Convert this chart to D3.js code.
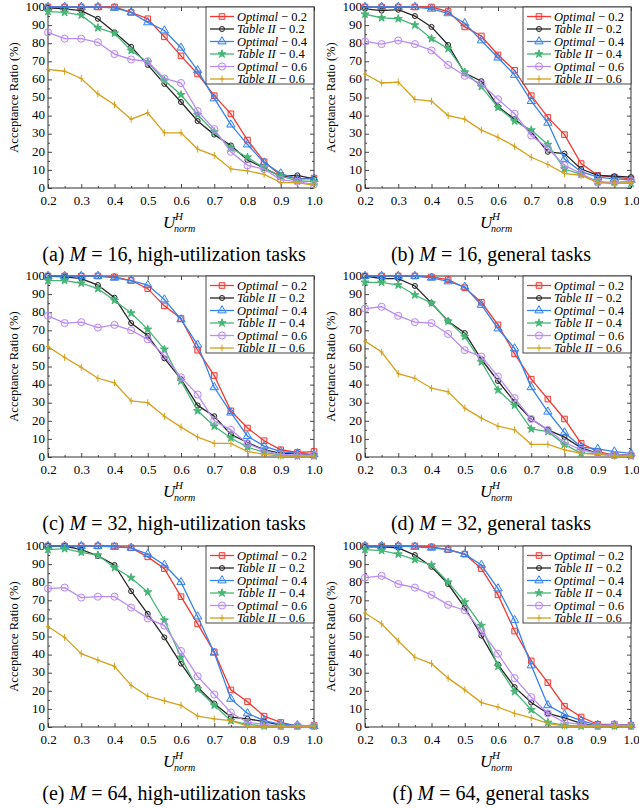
<!DOCTYPE html>
<html><head><meta charset="utf-8">
<script src="https://cdn.jsdelivr.net/npm/d3@7"></script>
<style>
body{margin:0;background:#fff}
svg{display:block}
text{font-family:"Liberation Serif","Times New Roman",Times,serif;fill:#000}
</style>
</head><body>
<svg id="chart" width="639" height="809"></svg>
<script>
// ---------- data ----------
const xValues = [0.2,0.25,0.3,0.35,0.4,0.45,0.5,0.55,0.6,0.65,0.7,0.75,0.8,0.85,0.9,0.95,1.0];
const xTicks = [0.2,0.3,0.4,0.5,0.6,0.7,0.8,0.9,1.0];
const xMinorTicks = [0.25,0.35,0.45,0.55,0.65,0.75,0.85,0.95];
const yTicks = [0,10,20,30,40,50,60,70,80,90,100];
const yMinorTicks = [5,15,25,35,45,55,65,75,85,95];

const seriesNames = ["Optimal","Table II","Optimal","Table II","Optimal","Table II"];
const seriesParams = ["0.2","0.2","0.4","0.4","0.6","0.6"];
const seriesColors = ["#f03a32","#262626","#3583ee","#46b676","#b98cf2","#d6a11c"];
const seriesMarkers = ["square","smallCircle","triangle","star","circle","plus"];

const captionLetters = ["(a)","(b)","(c)","(d)","(e)","(f)"];
const captionM = ["16","16","32","32","64","64"];
const captionKinds = ["high-utilization tasks","general tasks","high-utilization tasks","general tasks","high-utilization tasks","general tasks"];

// (a) M=16 high-utilization
const a_opt02 = [100,100,100,100,100,97,93.5,83.5,73,63,51,41,26.5,14.5,7,5,5.5];
const a_tab02 = [99.5,99,98,93.5,86,78,68,57.5,47.5,37,29.5,23.5,15.5,11,6.5,7,5];
const a_opt04 = [100,100,100,100,99.5,97,91.5,87,77.5,65,49.5,35,24,14,8,5,5];
const a_tab04 = [97.5,97,95.5,88.5,85.5,76,69.5,59.5,51.5,40.5,31,22,17,11,6.5,4,3.5];
const a_opt06 = [86,82.5,82.5,80.5,74,71,70,60.5,58,42.5,32.5,20,12.5,10.5,4.5,3.5,2];
const a_tab06 = [65.5,64.5,60.5,52,46,38,41.5,30.5,30.5,21.5,18,10.5,9.5,7.5,3,3,1.5];
// (b) M=16 general
const b_opt02 = [100,100,100,100,100,97.5,89,84,73.5,65,51,39,29.5,13.5,7,6,5];
const b_tab02 = [99,98,98.5,95,89,79,63.5,59,45,38,31,20,19,10.5,7,6.5,6];
const b_opt04 = [100,100,100,100,99,96.5,91,81.5,72,62.5,48,36,16,9,6,5,4.5];
const b_tab04 = [96,94,93.5,90,82.5,77,64,56,44.5,37,32,24,10.5,7.5,3.5,3,2.5];
const b_opt06 = [81,79.5,81.5,79.5,76,68,62,57.5,49,41,29,22,12.5,8,3,3,4];
const b_tab06 = [63,58,58.5,49,48,40,38,32,28,23,17,13,8,7,3,2.5,3];
// (c) M=32 high-utilization
const c_opt02 = [100,100,100,100,99.5,97.5,93,83.5,76.5,59,45,25.5,16,9,4,2.5,3];
const c_tab02 = [100,99.5,98.5,95,88,74,67,54.5,43,28.5,22.5,12.5,8,4,2,2,1];
const c_opt04 = [100,100,100,100,99,97.5,95,87,76,62,38.5,24.5,11.5,6,3,2,1.5];
const c_tab04 = [97.5,97.5,96,93,86.5,79.5,70.5,59.5,42,25.5,17,10.5,5.5,2.5,1,0.5,0.5];
const c_opt06 = [78,74,74.5,71.5,73,70,65,56,44,34.5,20,15,7.5,3.5,1.5,1,1];
const c_tab06 = [61,55,49.5,43.5,41,31,30,22.5,16.5,11,7.5,7.5,3,1.5,0.5,0.5,0.5];
// (d) M=32 general
const d_opt02 = [100,100,100,100,99.5,98,93.5,85.5,73,57,43,32,21,7.5,3,1,1];
const d_tab02 = [100,98.5,98.5,94.5,85,75,68.5,54,42,30.5,21,15,11,5,2,1,1];
const d_opt04 = [100,100,100,100,99,97,94,84,71,60,38.5,25,13.5,5.5,4.5,3,2];
const d_tab04 = [96.5,96.5,95,89.5,85,75,66.5,52.5,37,28.5,15.5,14,7,2,2,1,0.5];
const d_opt06 = [82,83,78,74.5,74,68,59,55.5,44.5,32.5,21,15,8,4,2,1,1];
const d_tab06 = [64,58,46,43.5,38,36,27,21.5,17,15,7,7,4,2,1.5,0.5,0.5];
// (e) M=64 high-utilization
const e_opt02 = [100,100,100,100,100,99,94,87.5,72,57,41.5,20.5,14,6,2.5,0.5,1];
const e_tab02 = [100,100,98,94.5,89.5,75,62.5,49.5,35,22,13,5.5,4.5,3,1,0.5,0.5];
const e_opt04 = [100,100,100,100,99.5,99,95.5,89.5,80,61,41,15.5,7.5,3.5,1.5,1,0.5];
const e_tab04 = [98,98.5,96.5,95,88,82.5,74.5,59,38.5,21,12,3.5,1.5,0.5,0.5,0.5,0.5];
const e_opt06 = [76.5,77,71.5,72,72,66,60,56,42,28,18,8,2.5,1.5,0.5,0.5,0.5];
const e_tab06 = [55.5,49.5,40.5,37,33.5,23,17,14.5,12,6,4.5,3.5,0.5,0.5,0.5,0.5,0.5];
// (f) M=64 general
const f_opt02 = [100,100,100,100,99.5,98,95.5,87.5,73,53,36.5,24.5,11.5,5.5,1.5,1.5,1];
const f_tab02 = [99.5,99.5,99,95,88.5,79,66,50.5,34.5,22,13.5,7.5,5,2,0.5,0.5,0.5];
const f_opt04 = [100,100,100,99.5,99,98,95.5,89.5,76.5,59,34,12,7,3.5,1,1,1];
const f_tab04 = [98,97.5,95.5,92.5,89.5,80,69,56,33.5,19.5,9.5,2.5,1,0.5,0.5,0.5,0.5];
const f_opt06 = [82.5,83.5,79,77,73,67.5,64.5,53,40.5,27,16.5,7.5,2.5,1.5,0.5,1.5,0.5];
const f_tab06 = [63,57,47.5,38.5,35,27,20.5,13.5,11,7.5,5,2,0.5,0.5,0.5,0.5,0.5];

const panelSeries = [
  [a_opt02,a_tab02,a_opt04,a_tab04,a_opt06,a_tab06],
  [b_opt02,b_tab02,b_opt04,b_tab04,b_opt06,b_tab06],
  [c_opt02,c_tab02,c_opt04,c_tab04,c_opt06,c_tab06],
  [d_opt02,d_tab02,d_opt04,d_tab04,d_opt06,d_tab06],
  [e_opt02,e_tab02,e_opt04,e_tab04,e_opt06,e_tab06],
  [f_opt02,f_tab02,f_opt04,f_tab04,f_opt06,f_tab06]
];

// ---------- layout ----------
const colLeft = [48, 365];
const plotW = 266;
const rowTop = [7, 276, 546];
const plotH = 181;

const svg = d3.select("#chart");

function markerPath(type){
  switch(type){
    case "square": return "M-2.8,-2.8H2.8V2.8H-2.8Z";
    case "smallCircle": return d3.symbol(d3.symbolCircle, 20)();
    case "triangle": return d3.symbol(d3.symbolTriangle, 30)();
    case "star": return d3.symbol(d3.symbolStar, 20)();
    case "circle": return d3.symbol(d3.symbolCircle, 40)();
    case "plus": return "M-2,0H2M0,-3.5V3.5";
  }
}
function markerFill(type, color){
  if(type==="star") return color;
  if(type==="plus") return "none";
  return d3.color(color).copy({opacity:0.12}).formatRgb();
}

panelSeries.forEach((series, p) => {
  const col = p % 2, row = Math.floor(p / 2);
  const left = colLeft[col], top = rowTop[row];
  const g = svg.append("g").attr("transform", `translate(${left},${top})`);
  const x = d3.scaleLinear().domain([0.2, 1.0]).range([0, plotW]);
  const y = d3.scaleLinear().domain([0, 100]).range([plotH, 0]);

  // axes, ticks pointing inward on all four sides
  g.append("g").attr("transform", `translate(0,${plotH})`)
    .call(d3.axisBottom(x).tickValues(xTicks).tickSize(-4).tickPadding(8).tickFormat(d3.format(".1f")));
  g.append("g").attr("transform", `translate(0,${plotH})`)
    .call(d3.axisBottom(x).tickValues(xMinorTicks).tickSize(-2).tickFormat(""));
  const yAx = g.append("g")
    .call(d3.axisLeft(y).tickValues(yTicks).tickSize(-4).tickPadding(3).tickFormat(d3.format("d")));
  yAx.selectAll(".tick text").attr("dy", "0.25em");
  g.append("g").call(d3.axisLeft(y).tickValues(yMinorTicks).tickSize(-2).tickFormat(""));
  g.append("g").call(d3.axisTop(x).tickValues(xTicks).tickSize(-4).tickFormat(""));
  g.append("g").call(d3.axisTop(x).tickValues(xMinorTicks).tickSize(-2).tickFormat(""));
  g.append("g").attr("transform", `translate(${plotW},0)`)
    .call(d3.axisRight(y).tickValues(yTicks).tickSize(-4).tickFormat(""));
  g.append("g").attr("transform", `translate(${plotW},0)`)
    .call(d3.axisRight(y).tickValues(yMinorTicks).tickSize(-2).tickFormat(""));
  g.selectAll(".domain").remove();
  g.selectAll(".tick line").attr("stroke", "#333").attr("stroke-width", 0.9);
  g.selectAll(".tick text").attr("font-size", 13).attr("fill", "#000");

  // frame
  g.append("rect").attr("width", plotW).attr("height", plotH)
    .attr("fill", "none").attr("stroke", "#333").attr("stroke-width", 1);

  // series
  const line = d3.line().x((d, i) => x(xValues[i])).y(d => y(d));
  series.forEach((vals, s) => {
    const c = seriesColors[s];
    g.append("path").datum(vals).attr("d", line)
      .attr("fill", "none").attr("stroke", c).attr("stroke-width", 1.3);
    g.append("g").selectAll("path").data(vals).join("path")
      .attr("transform", (d, i) => `translate(${x(xValues[i])},${y(d)})`)
      .attr("d", markerPath(seriesMarkers[s]))
      .attr("fill", markerFill(seriesMarkers[s], c))
      .attr("stroke", c).attr("stroke-width", 1);
  });

  // legend
  const lgW = 108, lgH = 77;
  const lg = g.append("g").attr("transform", `translate(${plotW - lgW},0)`);
  lg.append("rect").attr("width", lgW).attr("height", lgH)
    .attr("fill", "#fff").attr("stroke", "#333").attr("stroke-width", 0.9);
  seriesNames.forEach((nm, s) => {
    const yy = 9.5 + s * 12.5;
    const c = seriesColors[s];
    lg.append("line").attr("x1", 4).attr("x2", 28).attr("y1", yy).attr("y2", yy)
      .attr("stroke", c).attr("stroke-width", 1.3);
    lg.append("path").attr("transform", `translate(16,${yy})`)
      .attr("d", markerPath(seriesMarkers[s]))
      .attr("fill", markerFill(seriesMarkers[s], c)).attr("stroke", c).attr("stroke-width", 1);
    const t = lg.append("text").attr("x", 31).attr("y", yy + 4.3).attr("font-size", 12.5);
    t.append("tspan").attr("font-style", "italic").text(nm);
    t.append("tspan").text(" \u2212 " + seriesParams[s]);
  });

  // y-axis title
  g.append("text").attr("transform", `translate(-30,${plotH / 2}) rotate(-90)`)
    .attr("text-anchor", "middle").attr("font-size", 12.5)
    .text("Acceptance Ratio (%)");

  // x-axis title U^H_norm (single text element)
  const cx = plotW / 2;
  const xt = g.append("text").attr("transform", `translate(${cx - 18},${plotH + 40})`)
    .attr("font-style", "italic");
  xt.append("tspan").attr("x", 0).attr("y", 0).attr("font-size", 17).text("U");
  xt.append("tspan").attr("x", 12).attr("y", -8).attr("font-size", 11).text("H");
  xt.append("tspan").attr("x", 11).attr("y", 4).attr("font-size", 10).text("norm");

  // caption
  const cap = g.append("text").attr("x", cx - 7).attr("y", plotH + 73)
    .attr("text-anchor", "middle").attr("font-size", 20);
  cap.append("tspan").text(captionLetters[p] + " ");
  cap.append("tspan").attr("font-style", "italic").text("M");
  cap.append("tspan").text(" = " + captionM[p] + ", " + captionKinds[p]);
});
</script>
</body></html>
